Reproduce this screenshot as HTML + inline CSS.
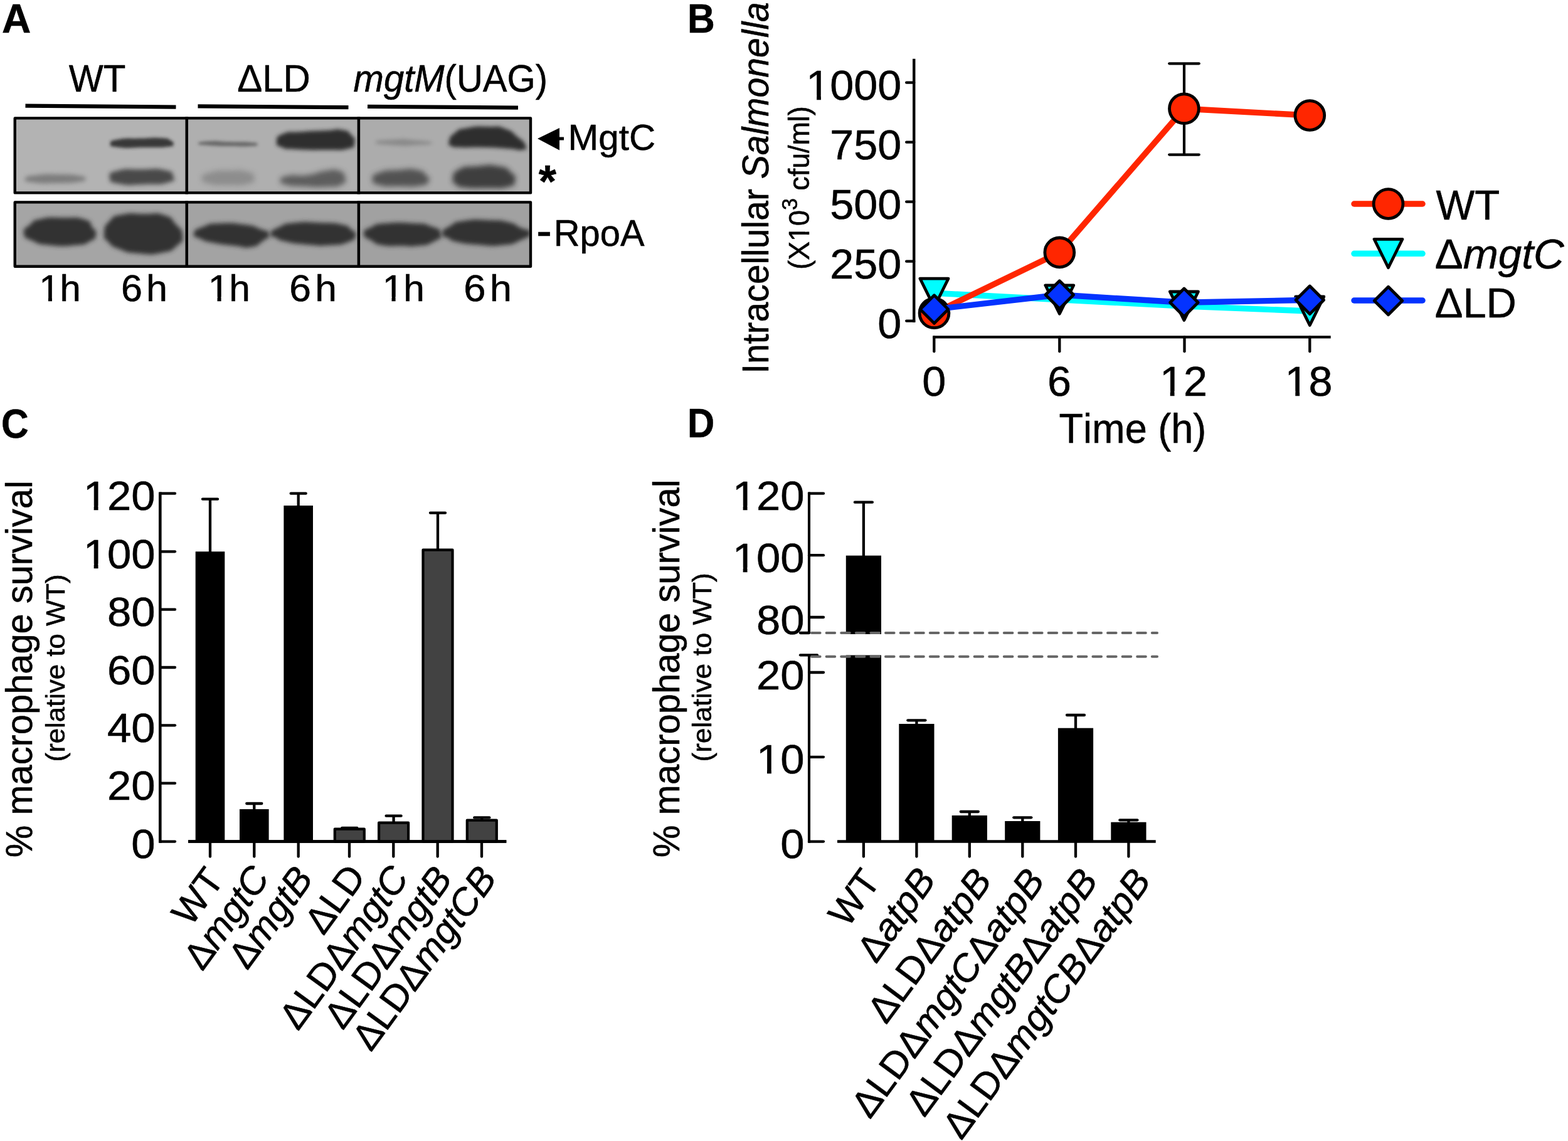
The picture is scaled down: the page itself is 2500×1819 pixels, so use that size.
<!DOCTYPE html>
<html lang="en"><head><meta charset="utf-8"><title>Figure</title>
<style>
html,body{margin:0;padding:0;background:#fff;}
body{width:2500px;height:1819px;overflow:hidden;}
svg{display:block;}
svg text{font-family:"Liberation Sans",sans-serif;fill:#000;font-kerning:none;white-space:pre;stroke:#000;stroke-width:0.55px;stroke-linejoin:round;}
</style></head><body>
<svg width="2500" height="1819" viewBox="0 0 2500 1819">
<defs>
<filter id="b25" x="-20%" y="-80%" width="140%" height="260%"><feGaussianBlur stdDeviation="2.5"/></filter>
<filter id="b3" x="-20%" y="-80%" width="140%" height="260%"><feGaussianBlur stdDeviation="3"/></filter>
<filter id="b35" x="-20%" y="-80%" width="140%" height="260%"><feGaussianBlur stdDeviation="3.5"/></filter>
<filter id="b4" x="-20%" y="-50%" width="140%" height="200%"><feGaussianBlur stdDeviation="4"/></filter>
<filter id="b5" x="-20%" y="-50%" width="140%" height="200%"><feGaussianBlur stdDeviation="5"/></filter>
<clipPath id="c1"><rect x="23.75" y="188.4" width="822.25" height="119"/></clipPath>
<clipPath id="c2"><rect x="23.75" y="322.4" width="822.25" height="102.4"/></clipPath>
</defs>
<rect x="0" y="0" width="2500" height="1819" fill="#fff"/>
<text transform="translate(2.90,52.00) scale(1.0015,1)" font-size="64" ><tspan font-weight="bold">A</tspan></text>
<text transform="translate(109.74,146.00) scale(0.9632,1)" font-size="60.5" >WT</text>
<text transform="translate(378.21,146.00) scale(0.9907,1)" font-size="60.5" >ΔLD</text>
<text transform="translate(563.54,146.00) scale(0.9594,1)" font-size="60.5" ><tspan font-style="italic">mgtM</tspan><tspan>(UAG)</tspan></text>
<line x1="40.50" y1="168.70" x2="280.50" y2="170.60" stroke="#000" stroke-width="6.2" stroke-linecap="butt" />
<line x1="315.50" y1="169.30" x2="555.50" y2="171.20" stroke="#000" stroke-width="6.2" stroke-linecap="butt" />
<line x1="586.00" y1="169.80" x2="826.00" y2="171.70" stroke="#000" stroke-width="6.2" stroke-linecap="butt" />
<g clip-path="url(#c1)">
<rect x="21.00" y="186.00" width="277.00" height="124.00" fill="#b3b3b3" />
<rect x="298.00" y="186.00" width="274.00" height="124.00" fill="#afafaf" />
<rect x="572.00" y="186.00" width="277.00" height="124.00" fill="#acacac" />
<path d="M176.0,229.0 C176.0,224.7 173.7,224.8 190.0,222.0 C206.3,219.2 202.3,221.2 225.0,220.5 C247.7,219.8 242.3,218.8 258.0,220.0 C273.7,221.2 266.0,220.7 272.0,224.0 C278.0,227.3 277.3,226.7 276.0,230.0 C274.7,233.3 283.3,232.3 268.0,234.0 C252.7,235.7 256.0,234.7 230.0,235.0 C204.0,235.3 208.0,237.0 190.0,235.0 C172.0,233.0 176.0,233.3 176.0,229.0Z" fill="#303030" opacity="0.95" filter="url(#b25)"/>
<path d="M40.0,285.0 C41.7,281.0 41.7,281.3 60.0,279.0 C78.3,276.7 73.3,277.7 95.0,278.0 C116.7,278.3 111.3,277.7 125.0,280.0 C138.7,282.3 136.0,281.7 136.0,285.0 C136.0,288.3 140.3,287.7 125.0,290.0 C109.7,292.3 113.3,291.7 90.0,292.0 C66.7,292.3 71.7,293.3 55.0,291.0 C38.3,288.7 38.3,289.0 40.0,285.0Z" fill="#6a6a6a" opacity="0.75" filter="url(#b35)"/>
<path d="M175.0,283.0 C174.3,276.0 171.3,276.3 188.0,272.0 C204.7,267.7 200.3,270.3 225.0,270.0 C249.7,269.7 245.0,267.3 262.0,271.0 C279.0,274.7 274.0,274.3 276.0,281.0 C278.0,287.7 283.3,286.7 268.0,291.0 C252.7,295.3 256.0,293.3 230.0,294.0 C204.0,294.7 208.3,296.7 190.0,293.0 C171.7,289.3 175.7,290.0 175.0,283.0Z" fill="#3c3c3c" opacity="0.9" filter="url(#b35)"/>
<path d="M316.0,229.0 C316.0,226.7 318.7,226.0 335.0,225.0 C351.3,224.0 343.3,225.3 365.0,226.0 C386.7,226.7 385.0,225.7 400.0,227.0 C415.0,228.3 410.0,228.0 410.0,230.0 C410.0,232.0 415.0,232.0 400.0,233.0 C385.0,234.0 386.7,233.3 365.0,233.0 C343.3,232.7 351.3,233.3 335.0,232.0 C318.7,230.7 316.0,231.3 316.0,229.0Z" fill="#555" opacity="0.8" filter="url(#b25)"/>
<path d="M441.0,226.0 C441.7,218.7 439.0,218.3 452.0,213.0 C465.0,207.7 457.3,211.7 480.0,210.0 C502.7,208.3 498.3,209.0 520.0,208.0 C541.7,207.0 531.7,204.7 545.0,207.0 C558.3,209.3 553.3,208.0 560.0,215.0 C566.7,222.0 566.7,220.7 565.0,228.0 C563.3,235.3 570.0,233.3 555.0,237.0 C540.0,240.7 548.3,238.7 520.0,239.0 C491.7,239.3 493.3,239.3 470.0,238.0 C446.7,236.7 459.7,239.0 450.0,235.0 C440.3,231.0 440.3,233.3 441.0,226.0Z" fill="#2e2e2e" opacity="1" filter="url(#b3)"/>
<path d="M322.0,285.0 C322.0,279.0 320.7,279.3 335.0,275.0 C349.3,270.7 345.0,272.3 365.0,272.0 C385.0,271.7 381.7,270.0 395.0,274.0 C408.3,278.0 405.0,277.7 405.0,284.0 C405.0,290.3 410.0,289.3 395.0,293.0 C380.0,296.7 380.0,295.0 360.0,295.0 C340.0,295.0 347.7,296.3 335.0,293.0 C322.3,289.7 322.0,291.0 322.0,285.0Z" fill="#777" opacity="0.6" filter="url(#b4)"/>
<path d="M447.0,288.0 C447.7,283.0 445.7,283.0 460.0,280.0 C474.3,277.0 470.0,281.7 490.0,279.0 C510.0,276.3 503.3,274.3 520.0,272.0 C536.7,269.7 530.0,268.7 540.0,272.0 C550.0,275.3 548.3,274.7 550.0,282.0 C551.7,289.3 555.0,288.7 545.0,294.0 C535.0,299.3 541.7,297.0 520.0,298.0 C498.3,299.0 500.7,298.0 480.0,297.0 C459.3,296.0 469.0,298.0 458.0,295.0 C447.0,292.0 446.3,293.0 447.0,288.0Z" fill="#505050" opacity="0.85" filter="url(#b4)"/>
<path d="M598.0,227.0 C598.0,224.0 609.3,223.7 630.0,222.5 C650.7,221.3 640.3,221.7 660.0,223.5 C679.7,225.3 689.0,225.3 689.0,228.0 C689.0,230.7 679.7,230.3 660.0,231.5 C640.3,232.7 650.7,233.0 630.0,231.5 C609.3,230.0 598.0,230.0 598.0,227.0Z" fill="#7a7a7a" opacity="0.7" filter="url(#b3)"/>
<path d="M716.0,226.0 C717.7,219.0 715.3,219.3 725.0,212.0 C734.7,204.7 726.7,207.3 745.0,204.0 C763.3,200.7 760.0,201.7 780.0,202.0 C800.0,202.3 790.0,199.7 805.0,205.0 C820.0,210.3 814.0,209.0 825.0,218.0 C836.0,227.0 835.7,225.0 838.0,232.0 C840.3,239.0 841.3,237.3 832.0,239.0 C822.7,240.7 830.7,238.3 810.0,237.0 C789.3,235.7 795.0,235.7 770.0,235.0 C745.0,234.3 751.7,235.7 735.0,235.0 C718.3,234.3 726.3,236.0 720.0,233.0 C713.7,230.0 714.3,233.0 716.0,226.0Z" fill="#2e2e2e" opacity="1" filter="url(#b3)"/>
<path d="M594.0,286.0 C594.0,279.3 591.3,280.0 605.0,275.0 C618.7,270.0 615.0,272.3 635.0,271.0 C655.0,269.7 650.0,268.0 665.0,271.0 C680.0,274.0 674.0,274.0 680.0,280.0 C686.0,286.0 686.3,283.7 683.0,289.0 C679.7,294.3 686.0,293.3 670.0,296.0 C654.0,298.7 656.7,297.3 635.0,297.0 C613.3,296.7 618.7,298.7 605.0,295.0 C591.3,291.3 594.0,292.7 594.0,286.0Z" fill="#484848" opacity="0.9" filter="url(#b4)"/>
<path d="M722.0,285.0 C723.7,277.0 719.3,276.7 732.0,270.0 C744.7,263.3 739.0,266.7 760.0,265.0 C781.0,263.3 776.7,261.7 795.0,265.0 C813.3,268.3 806.3,267.3 815.0,275.0 C823.7,282.7 822.7,280.3 821.0,288.0 C819.3,295.7 825.3,294.0 810.0,298.0 C794.7,302.0 798.3,299.7 775.0,300.0 C751.7,300.3 756.0,301.0 740.0,299.0 C724.0,297.0 733.0,298.7 727.0,294.0 C721.0,289.3 720.3,293.0 722.0,285.0Z" fill="#383838" opacity="0.95" filter="url(#b4)"/>
</g>
<rect x="23.75" y="188.40" width="822.25" height="119.00" fill="none" stroke="#000" stroke-width="4.4" stroke-linejoin="round"/>
<line x1="297.75" y1="186.20" x2="297.75" y2="309.50" stroke="#000" stroke-width="4.5" stroke-linecap="butt" />
<line x1="571.90" y1="186.20" x2="571.90" y2="309.50" stroke="#000" stroke-width="4.5" stroke-linecap="butt" />
<g clip-path="url(#c2)">
<rect x="21.00" y="320.00" width="277.00" height="108.00" fill="#a5a5a5" />
<rect x="298.00" y="320.00" width="274.00" height="108.00" fill="#a3a3a3" />
<rect x="572.00" y="320.00" width="277.00" height="108.00" fill="#a1a1a1" />
<path d="M38.0,372.0 C36.7,363.3 39.0,365.7 48.0,358.0 C57.0,350.3 47.7,352.7 65.0,349.0 C82.3,345.3 76.7,346.7 100.0,347.0 C123.3,347.3 119.3,345.0 135.0,350.0 C150.7,355.0 141.0,354.0 147.0,362.0 C153.0,370.0 154.3,366.3 153.0,374.0 C151.7,381.7 154.0,379.3 143.0,385.0 C132.0,390.7 141.0,389.0 120.0,391.0 C99.0,393.0 102.7,393.3 80.0,391.0 C57.3,388.7 66.0,390.3 52.0,384.0 C38.0,377.7 39.3,380.7 38.0,372.0Z" fill="#303030" opacity="1" filter="url(#b35)"/>
<path d="M166.0,372.0 C166.7,360.7 165.3,362.0 175.0,352.0 C184.7,342.0 176.7,345.7 195.0,342.0 C213.3,338.3 207.7,340.7 230.0,341.0 C252.3,341.3 245.3,337.7 262.0,343.0 C278.7,348.3 270.3,346.3 280.0,357.0 C289.7,367.7 290.3,363.3 291.0,375.0 C291.7,386.7 293.0,382.7 282.0,392.0 C271.0,401.3 278.7,399.0 258.0,403.0 C237.3,407.0 242.7,406.0 220.0,404.0 C197.3,402.0 205.7,403.0 190.0,397.0 C174.3,391.0 181.0,394.3 173.0,386.0 C165.0,377.7 165.3,383.3 166.0,372.0Z" fill="#303030" opacity="1" filter="url(#b35)"/>
<path d="M309.0,372.0 C310.7,365.3 311.3,366.3 325.0,361.0 C338.7,355.7 328.3,357.0 350.0,356.0 C371.7,355.0 368.3,355.0 390.0,358.0 C411.7,361.0 402.0,360.0 415.0,365.0 C428.0,370.0 428.0,366.3 429.0,373.0 C430.0,379.7 427.7,378.0 418.0,385.0 C408.3,392.0 414.3,391.7 400.0,394.0 C385.7,396.3 395.0,394.3 375.0,392.0 C355.0,389.7 358.3,390.7 340.0,387.0 C321.7,383.3 330.3,386.0 320.0,381.0 C309.7,376.0 307.3,378.7 309.0,372.0Z" fill="#303030" opacity="1" filter="url(#b35)"/>
<path d="M431.0,373.0 C432.7,367.3 432.0,368.0 445.0,362.0 C458.0,356.0 448.3,357.3 470.0,355.0 C491.7,352.7 485.0,354.0 510.0,355.0 C535.0,356.0 528.3,354.3 545.0,358.0 C561.7,361.7 552.7,360.3 560.0,366.0 C567.3,371.7 568.7,368.3 567.0,375.0 C565.3,381.7 569.0,380.7 555.0,386.0 C541.0,391.3 546.7,389.7 525.0,391.0 C503.3,392.3 513.3,392.0 490.0,390.0 C466.7,388.0 471.7,388.7 455.0,385.0 C438.3,381.3 448.0,383.0 440.0,379.0 C432.0,375.0 429.3,378.7 431.0,373.0Z" fill="#303030" opacity="1" filter="url(#b35)"/>
<path d="M580.0,373.0 C579.7,365.7 580.3,367.7 592.0,362.0 C603.7,356.3 592.3,358.0 615.0,356.0 C637.7,354.0 636.7,354.7 660.0,356.0 C683.3,357.3 670.7,354.7 685.0,360.0 C699.3,365.3 701.3,363.3 703.0,372.0 C704.7,380.7 702.7,379.3 690.0,386.0 C677.3,392.7 681.7,390.0 665.0,392.0 C648.3,394.0 658.3,392.3 640.0,392.0 C621.7,391.7 625.7,393.7 610.0,391.0 C594.3,388.3 603.0,390.0 593.0,384.0 C583.0,378.0 580.3,380.3 580.0,373.0Z" fill="#303030" opacity="1" filter="url(#b35)"/>
<path d="M705.0,372.0 C706.0,365.3 706.3,366.7 718.0,360.0 C729.7,353.3 719.3,355.0 740.0,352.0 C760.7,349.0 756.7,350.3 780.0,351.0 C803.3,351.7 793.3,350.0 810.0,354.0 C826.7,358.0 818.0,357.3 830.0,363.0 C842.0,368.7 846.0,364.3 846.0,371.0 C846.0,377.7 845.3,376.3 830.0,383.0 C814.7,389.7 823.3,388.7 800.0,391.0 C776.7,393.3 783.3,391.7 760.0,390.0 C736.7,388.3 745.0,389.3 730.0,386.0 C715.0,382.7 723.3,384.7 715.0,380.0 C706.7,375.3 704.0,378.7 705.0,372.0Z" fill="#303030" opacity="1" filter="url(#b35)"/>
</g>
<rect x="23.75" y="322.40" width="822.25" height="102.40" fill="none" stroke="#000" stroke-width="4.4" stroke-linejoin="round"/>
<line x1="297.75" y1="320.20" x2="297.75" y2="427.00" stroke="#000" stroke-width="4.5" stroke-linecap="butt" />
<line x1="571.90" y1="320.20" x2="571.90" y2="427.00" stroke="#000" stroke-width="4.5" stroke-linecap="butt" />
<polygon points="857,221 892,204 892,239.5" fill="#000"/>
<line x1="890.00" y1="221.00" x2="899.00" y2="221.00" stroke="#000" stroke-width="5" stroke-linecap="butt" />
<text transform="translate(905.50,239.00) scale(1.0083,1)" font-size="58" >MgtC</text>
<text transform="translate(858.79,314.00) scale(1.0094,1)" font-size="72" ><tspan font-weight="bold">*</tspan></text>
<text transform="translate(854.95,392.85) scale(0.9969,1)" font-size="75.6" >-</text>
<text transform="translate(882.75,391.80) scale(0.9816,1)" font-size="59" >RpoA</text>
<clipPath id="k1"><path clip-rule="evenodd" d="M-3000,-3000H3000V3000H-3000ZM3.00,-6.68H14.74V2.00H3.00ZM20.74,-6.68H31.80V2.00H20.74Z"/></clipPath>
<text transform="translate(62.24,480.00) scale(0.9988,1)" font-size="60"  clip-path="url(#k1)">1h</text>
<clipPath id="k2"><path clip-rule="evenodd" d="M-3000,-3000H3000V3000H-3000ZM3.00,-6.68H14.74V2.00H3.00ZM20.74,-6.68H31.80V2.00H20.74Z"/></clipPath>
<text transform="translate(331.69,480.00) scale(1.0075,1)" font-size="60"  clip-path="url(#k2)">1h</text>
<clipPath id="k3"><path clip-rule="evenodd" d="M-3000,-3000H3000V3000H-3000ZM3.00,-6.68H14.74V2.00H3.00ZM20.74,-6.68H31.80V2.00H20.74Z"/></clipPath>
<text transform="translate(609.69,480.00) scale(1.0075,1)" font-size="60"  clip-path="url(#k3)">1h</text>
<text transform="translate(192.90,480.00) scale(1.0183,1)" font-size="60" letter-spacing="6" >6h</text>
<text transform="translate(461.33,480.00) scale(1.0411,1)" font-size="60" letter-spacing="6" >6h</text>
<text transform="translate(739.28,480.00) scale(1.0563,1)" font-size="60" letter-spacing="6" >6h</text>
<text transform="translate(1095.94,52.00) scale(0.9480,1)" font-size="64" ><tspan font-weight="bold">B</tspan></text>
<line x1="1457.25" y1="93.80" x2="1457.25" y2="514.00" stroke="#000" stroke-width="4.4" stroke-linecap="butt" />
<line x1="1445.20" y1="131.70" x2="1457.25" y2="131.70" stroke="#000" stroke-width="4.3" stroke-linecap="round" />
<clipPath id="k4"><path clip-rule="evenodd" d="M-3000,-3000H3000V3000H-3000ZM3.35,-7.21H16.50V2.00H3.35ZM23.12,-7.21H35.51V2.00H23.12Z"/></clipPath>
<text transform="translate(1285.34,158.90) scale(1.0200,1)" font-size="67"  clip-path="url(#k4)">1000</text>
<line x1="1445.20" y1="226.70" x2="1457.25" y2="226.70" stroke="#000" stroke-width="4.3" stroke-linecap="round" />
<text transform="translate(1323.35,253.90) scale(1.0200,1)" font-size="67" >750</text>
<line x1="1445.20" y1="321.70" x2="1457.25" y2="321.70" stroke="#000" stroke-width="4.3" stroke-linecap="round" />
<text transform="translate(1323.35,348.90) scale(1.0200,1)" font-size="67" >500</text>
<line x1="1445.20" y1="416.70" x2="1457.25" y2="416.70" stroke="#000" stroke-width="4.3" stroke-linecap="round" />
<text transform="translate(1323.35,443.90) scale(1.0200,1)" font-size="67" >250</text>
<line x1="1445.20" y1="511.70" x2="1457.25" y2="511.70" stroke="#000" stroke-width="4.3" stroke-linecap="round" />
<text transform="translate(1399.36,538.90) scale(1.0200,1)" font-size="67" >0</text>
<line x1="1487.20" y1="537.30" x2="2121.70" y2="537.30" stroke="#000" stroke-width="4.3" stroke-linecap="butt" />
<line x1="1489.30" y1="537.30" x2="1489.30" y2="560.30" stroke="#000" stroke-width="4.3" stroke-linecap="round" />
<text transform="translate(1470.30,630.70) scale(1.0200,1)" font-size="67" >0</text>
<line x1="1689.30" y1="537.30" x2="1689.30" y2="560.30" stroke="#000" stroke-width="4.3" stroke-linecap="round" />
<text transform="translate(1670.06,630.70) scale(1.0200,1)" font-size="67" >6</text>
<line x1="1888.50" y1="537.30" x2="1888.50" y2="560.30" stroke="#000" stroke-width="4.3" stroke-linecap="round" />
<clipPath id="k5"><path clip-rule="evenodd" d="M-3000,-3000H3000V3000H-3000ZM3.35,-7.21H16.50V2.00H3.35ZM23.12,-7.21H35.51V2.00H23.12Z"/></clipPath>
<text transform="translate(1848.92,630.70) scale(1.0200,1)" font-size="67"  clip-path="url(#k5)">12</text>
<line x1="2088.30" y1="537.30" x2="2088.30" y2="560.30" stroke="#000" stroke-width="4.3" stroke-linecap="round" />
<clipPath id="k6"><path clip-rule="evenodd" d="M-3000,-3000H3000V3000H-3000ZM3.35,-7.21H16.50V2.00H3.35ZM23.12,-7.21H35.51V2.00H23.12Z"/></clipPath>
<text transform="translate(2048.49,630.70) scale(1.0200,1)" font-size="67"  clip-path="url(#k6)">18</text>
<text transform="translate(1688.58,705.50) scale(0.9559,1)" font-size="66" >Time (h)</text>
<text transform="translate(1225.00,595.86) rotate(-90) scale(0.9665,1.0000)" font-size="59"><tspan>Intracellular </tspan><tspan font-style="italic">Salmonella</tspan></text>
<clipPath id="k7"><path clip-rule="evenodd" d="M-3000,-3000H3000V3000H-3000ZM48.30,-5.64H57.22V2.00H48.30ZM61.98,-5.64H70.38V2.00H61.98Z"/></clipPath>
<text transform="translate(1289.50,429.78) rotate(-90) scale(0.9745,1.0000)" font-size="46" clip-path="url(#k7)"><tspan>(X10</tspan><tspan font-size="34.96" dy="-18.40">3</tspan><tspan dy="18.40"> cfu/ml)</tspan></text>
<polyline points="1489.5,467.2 1689.3,477.8 1887.9,488.0 2088.3,496.0" fill="none" stroke="#00fdff" stroke-width="9.4" stroke-linejoin="round"/>
<polygon points="1467.0,444.2 1512.0,444.2 1489.5,489.7" fill="#00fdff" stroke="#000" stroke-width="4.8" stroke-linejoin="round"/>
<polygon points="1666.8,454.8 1711.8,454.8 1689.3,500.3" fill="#00fdff" stroke="#000" stroke-width="4.8" stroke-linejoin="round"/>
<polygon points="1865.4,465.0 1910.4,465.0 1887.9,510.5" fill="#00fdff" stroke="#000" stroke-width="4.8" stroke-linejoin="round"/>
<polygon points="2065.8,473.0 2110.8,473.0 2088.3,518.5" fill="#00fdff" stroke="#000" stroke-width="4.8" stroke-linejoin="round"/>
<line x1="1888.00" y1="101.00" x2="1888.00" y2="246.70" stroke="#000" stroke-width="4.2" stroke-linecap="butt" />
<line x1="1864.30" y1="101.30" x2="1911.70" y2="101.30" stroke="#000" stroke-width="4.3" stroke-linecap="round" />
<line x1="1864.30" y1="246.60" x2="1911.70" y2="246.60" stroke="#000" stroke-width="4.3" stroke-linecap="round" />
<polyline points="1489.5,499.3 1689.3,402.4 1887.9,173.3 2088.3,184.0" fill="none" stroke="#ff2600" stroke-width="9.4" stroke-linejoin="round"/>
<circle cx="1489.5" cy="499.3" r="23.4" fill="#ff2600" stroke="#000" stroke-width="4.8"/>
<circle cx="1689.3" cy="402.4" r="23.4" fill="#ff2600" stroke="#000" stroke-width="4.8"/>
<circle cx="1887.9" cy="173.3" r="23.4" fill="#ff2600" stroke="#000" stroke-width="4.8"/>
<circle cx="2088.3" cy="184.0" r="23.4" fill="#ff2600" stroke="#000" stroke-width="4.8"/>
<line x1="2066.00" y1="474.00" x2="2110.00" y2="474.00" stroke="#000" stroke-width="4.3" stroke-linecap="round" />
<polyline points="1489.5,493.1 1689.3,470.0 1887.9,482.3 2088.3,478.3" fill="none" stroke="#0433ff" stroke-width="9.4" stroke-linejoin="round"/>
<polygon points="1467.2,493.1 1489.5,470.8 1511.8,493.1 1489.5,515.4" fill="#0433ff" stroke="#000" stroke-width="4.8" stroke-linejoin="round"/>
<polygon points="1667.0,470.0 1689.3,447.7 1711.6,470.0 1689.3,492.3" fill="#0433ff" stroke="#000" stroke-width="4.8" stroke-linejoin="round"/>
<polygon points="1865.6,482.3 1887.9,460.0 1910.2,482.3 1887.9,504.6" fill="#0433ff" stroke="#000" stroke-width="4.8" stroke-linejoin="round"/>
<polygon points="2066.0,478.3 2088.3,456.0 2110.6,478.3 2088.3,500.6" fill="#0433ff" stroke="#000" stroke-width="4.8" stroke-linejoin="round"/>
<line x1="2159.00" y1="325.00" x2="2268.00" y2="325.00" stroke="#ff2600" stroke-width="9.5" stroke-linecap="round" />
<line x1="2159.00" y1="404.30" x2="2268.00" y2="404.30" stroke="#00fdff" stroke-width="9.5" stroke-linecap="round" />
<line x1="2159.00" y1="479.00" x2="2268.00" y2="479.00" stroke="#0433ff" stroke-width="9.5" stroke-linecap="round" />
<circle cx="2213.5" cy="325.0" r="23.4" fill="#ff2600" stroke="#000" stroke-width="4.8"/>
<polygon points="2191.0,381.3 2236.0,381.3 2213.5,426.8" fill="#00fdff" stroke="#000" stroke-width="4.8" stroke-linejoin="round"/>
<polygon points="2191.2,479.5 2213.5,457.2 2235.8,479.5 2213.5,501.8" fill="#0433ff" stroke="#000" stroke-width="4.8" stroke-linejoin="round"/>
<text transform="translate(2289.41,350.00) scale(0.9787,1)" font-size="66.9" >WT</text>
<text transform="translate(2287.69,428.40) scale(1.0070,1)" font-size="66.9" ><tspan>Δ</tspan><tspan font-style="italic">mgtC</tspan></text>
<text transform="translate(2287.71,505.50) scale(0.9999,1)" font-size="66.9" >ΔLD</text>
<text transform="translate(2.02,698.00) scale(0.9440,1)" font-size="64" ><tspan font-weight="bold">C</tspan></text>
<line x1="255.30" y1="784.50" x2="255.30" y2="1343.80" stroke="#000" stroke-width="4.6" stroke-linecap="butt" />
<line x1="255.30" y1="786.70" x2="279.00" y2="786.70" stroke="#000" stroke-width="4.3" stroke-linecap="round" />
<clipPath id="k8"><path clip-rule="evenodd" d="M-3000,-3000H3000V3000H-3000ZM3.25,-7.06H16.00V2.00H3.25ZM22.44,-7.06H34.45V2.00H22.44Z"/></clipPath>
<text transform="translate(132.73,813.20) scale(1.0600,1)" font-size="65"  clip-path="url(#k8)">120</text>
<line x1="255.30" y1="879.30" x2="279.00" y2="879.30" stroke="#000" stroke-width="4.3" stroke-linecap="round" />
<clipPath id="k9"><path clip-rule="evenodd" d="M-3000,-3000H3000V3000H-3000ZM3.25,-7.06H16.00V2.00H3.25ZM22.44,-7.06H34.45V2.00H22.44Z"/></clipPath>
<text transform="translate(132.73,905.80) scale(1.0600,1)" font-size="65"  clip-path="url(#k9)">100</text>
<line x1="255.30" y1="971.70" x2="279.00" y2="971.70" stroke="#000" stroke-width="4.3" stroke-linecap="round" />
<text transform="translate(171.05,998.20) scale(1.0600,1)" font-size="65" >80</text>
<line x1="255.30" y1="1064.00" x2="279.00" y2="1064.00" stroke="#000" stroke-width="4.3" stroke-linecap="round" />
<text transform="translate(171.05,1090.50) scale(1.0600,1)" font-size="65" >60</text>
<line x1="255.30" y1="1156.30" x2="279.00" y2="1156.30" stroke="#000" stroke-width="4.3" stroke-linecap="round" />
<text transform="translate(171.05,1182.80) scale(1.0600,1)" font-size="65" >40</text>
<line x1="255.30" y1="1248.70" x2="279.00" y2="1248.70" stroke="#000" stroke-width="4.3" stroke-linecap="round" />
<text transform="translate(171.05,1275.20) scale(1.0600,1)" font-size="65" >20</text>
<line x1="255.30" y1="1341.60" x2="279.00" y2="1341.60" stroke="#000" stroke-width="4.3" stroke-linecap="round" />
<text transform="translate(209.37,1368.10) scale(1.0600,1)" font-size="65" >0</text>
<line x1="300.00" y1="1341.60" x2="807.30" y2="1341.60" stroke="#000" stroke-width="4.5" stroke-linecap="butt" />
<text transform="translate(50.70,1367.06) rotate(-90) scale(0.9636,1.0000)" font-size="60">% macrophage survival</text>
<text transform="translate(102.70,1214.41) rotate(-90) scale(1.0422,1.0000)" font-size="42">(relative to WT)</text>
<line x1="335.00" y1="881.30" x2="335.00" y2="795.70" stroke="#000" stroke-width="4.3" stroke-linecap="butt" />
<line x1="323.00" y1="795.70" x2="347.00" y2="795.70" stroke="#000" stroke-width="4.3" stroke-linecap="round" />
<rect x="311.70" y="879.30" width="46.60" height="462.30" fill="#000" />
<line x1="335.00" y1="1341.60" x2="335.00" y2="1365.50" stroke="#000" stroke-width="4.3" stroke-linecap="round" />
<text transform="translate(358.60,1404.00) rotate(-53.9) scale(1.0100,1.0000)" x="-91.90" font-size="60">WT</text>
<line x1="405.30" y1="1292.00" x2="405.30" y2="1281.00" stroke="#000" stroke-width="4.3" stroke-linecap="butt" />
<line x1="393.30" y1="1281.00" x2="417.30" y2="1281.00" stroke="#000" stroke-width="4.3" stroke-linecap="round" />
<rect x="382.00" y="1290.00" width="46.60" height="51.60" fill="#000" />
<line x1="405.30" y1="1341.60" x2="405.30" y2="1365.50" stroke="#000" stroke-width="4.3" stroke-linecap="round" />
<text transform="translate(432.09,1399.52) rotate(-53.9) scale(1.0100,1.0000)" x="-183.75" font-size="60"><tspan>Δ</tspan><tspan font-style="italic">mgtC</tspan></text>
<line x1="475.70" y1="808.00" x2="475.70" y2="786.70" stroke="#000" stroke-width="4.3" stroke-linecap="butt" />
<line x1="463.70" y1="786.70" x2="487.70" y2="786.70" stroke="#000" stroke-width="4.3" stroke-linecap="round" />
<rect x="452.40" y="806.00" width="46.60" height="535.60" fill="#000" />
<line x1="475.70" y1="1341.60" x2="475.70" y2="1365.50" stroke="#000" stroke-width="4.3" stroke-linecap="round" />
<text transform="translate(500.17,1402.78) rotate(-53.9) scale(1.0100,1.0000)" x="-178.07" font-size="60"><tspan>Δ</tspan><tspan font-style="italic">mgtB</tspan></text>
<line x1="557.30" y1="1322.00" x2="557.30" y2="1320.00" stroke="#000" stroke-width="4.3" stroke-linecap="butt" />
<line x1="545.30" y1="1320.00" x2="569.30" y2="1320.00" stroke="#000" stroke-width="4.3" stroke-linecap="round" />
<rect x="533.80" y="1321.70" width="47.00" height="19.90" fill="#424242" stroke="#000" stroke-width="4.2" stroke-linejoin="round"/>
<line x1="557.00" y1="1341.60" x2="557.00" y2="1365.50" stroke="#000" stroke-width="4.3" stroke-linecap="round" />
<text transform="translate(583.50,1399.92) rotate(-53.9) scale(1.0100,1.0000)" x="-113.91" font-size="60">ΔLD</text>
<line x1="627.60" y1="1312.00" x2="627.60" y2="1300.70" stroke="#000" stroke-width="4.3" stroke-linecap="butt" />
<line x1="615.60" y1="1300.70" x2="639.60" y2="1300.70" stroke="#000" stroke-width="4.3" stroke-linecap="round" />
<rect x="604.10" y="1311.70" width="47.00" height="29.90" fill="#424242" stroke="#000" stroke-width="4.2" stroke-linejoin="round"/>
<line x1="627.30" y1="1341.60" x2="627.30" y2="1365.50" stroke="#000" stroke-width="4.3" stroke-linecap="round" />
<text transform="translate(654.09,1399.52) rotate(-53.9) scale(1.0100,1.0000)" x="-300.53" font-size="60"><tspan>ΔLDΔ</tspan><tspan font-style="italic">mgtC</tspan></text>
<line x1="698.00" y1="877.00" x2="698.00" y2="817.70" stroke="#000" stroke-width="4.3" stroke-linecap="butt" />
<line x1="686.00" y1="817.70" x2="710.00" y2="817.70" stroke="#000" stroke-width="4.3" stroke-linecap="round" />
<rect x="674.50" y="876.70" width="47.00" height="464.90" fill="#424242" stroke="#000" stroke-width="4.2" stroke-linejoin="round"/>
<line x1="697.70" y1="1341.60" x2="697.70" y2="1365.50" stroke="#000" stroke-width="4.3" stroke-linecap="round" />
<text transform="translate(722.17,1402.78) rotate(-53.9) scale(1.0100,1.0000)" x="-294.84" font-size="60"><tspan>ΔLDΔ</tspan><tspan font-style="italic">mgtB</tspan></text>
<line x1="768.30" y1="1308.00" x2="768.30" y2="1303.40" stroke="#000" stroke-width="4.3" stroke-linecap="butt" />
<line x1="756.30" y1="1303.40" x2="780.30" y2="1303.40" stroke="#000" stroke-width="4.3" stroke-linecap="round" />
<rect x="744.80" y="1307.70" width="47.00" height="33.90" fill="#424242" stroke="#000" stroke-width="4.2" stroke-linejoin="round"/>
<line x1="768.00" y1="1341.60" x2="768.00" y2="1365.50" stroke="#000" stroke-width="4.3" stroke-linecap="round" />
<text transform="translate(792.76,1402.37) rotate(-53.9) scale(1.0100,1.0000)" x="-338.17" font-size="60"><tspan>ΔLDΔ</tspan><tspan font-style="italic">mgtCB</tspan></text>
<line x1="300.00" y1="1341.60" x2="807.30" y2="1341.60" stroke="#000" stroke-width="4.5" stroke-linecap="butt" />
<text transform="translate(1096.00,697.00) scale(0.9350,1)" font-size="64" ><tspan font-weight="bold">D</tspan></text>
<line x1="1290.00" y1="784.60" x2="1290.00" y2="1009.00" stroke="#000" stroke-width="4.1" stroke-linecap="butt" />
<line x1="1290.00" y1="1044.30" x2="1290.00" y2="1343.70" stroke="#000" stroke-width="4.1" stroke-linecap="butt" />
<line x1="1290.00" y1="786.70" x2="1313.00" y2="786.70" stroke="#000" stroke-width="4.3" stroke-linecap="round" />
<clipPath id="k10"><path clip-rule="evenodd" d="M-3000,-3000H3000V3000H-3000ZM3.25,-7.06H16.00V2.00H3.25ZM22.44,-7.06H34.45V2.00H22.44Z"/></clipPath>
<text transform="translate(1167.73,813.20) scale(1.0600,1)" font-size="65"  clip-path="url(#k10)">120</text>
<line x1="1290.00" y1="885.20" x2="1313.00" y2="885.20" stroke="#000" stroke-width="4.3" stroke-linecap="round" />
<clipPath id="k11"><path clip-rule="evenodd" d="M-3000,-3000H3000V3000H-3000ZM3.25,-7.06H16.00V2.00H3.25ZM22.44,-7.06H34.45V2.00H22.44Z"/></clipPath>
<text transform="translate(1167.73,911.70) scale(1.0600,1)" font-size="65"  clip-path="url(#k11)">100</text>
<line x1="1290.00" y1="984.00" x2="1313.00" y2="984.00" stroke="#000" stroke-width="4.3" stroke-linecap="round" />
<text transform="translate(1206.05,1010.50) scale(1.0600,1)" font-size="65" >80</text>
<line x1="1290.00" y1="1072.00" x2="1313.00" y2="1072.00" stroke="#000" stroke-width="4.3" stroke-linecap="round" />
<text transform="translate(1206.05,1098.50) scale(1.0600,1)" font-size="65" >20</text>
<line x1="1290.00" y1="1206.80" x2="1313.00" y2="1206.80" stroke="#000" stroke-width="4.3" stroke-linecap="round" />
<clipPath id="k12"><path clip-rule="evenodd" d="M-3000,-3000H3000V3000H-3000ZM3.25,-7.06H16.00V2.00H3.25ZM22.44,-7.06H34.45V2.00H22.44Z"/></clipPath>
<text transform="translate(1206.05,1233.30) scale(1.0600,1)" font-size="65"  clip-path="url(#k12)">10</text>
<line x1="1290.00" y1="1341.60" x2="1313.00" y2="1341.60" stroke="#000" stroke-width="4.3" stroke-linecap="round" />
<text transform="translate(1244.37,1368.10) scale(1.0600,1)" font-size="65" >0</text>
<text transform="translate(1082.70,1367.07) rotate(-90) scale(0.9669,1.0000)" font-size="60">% macrophage survival</text>
<text transform="translate(1134.30,1214.43) rotate(-90) scale(1.0493,1.0000)" font-size="42">(relative to WT)</text>
<line x1="1376.90" y1="887.70" x2="1376.90" y2="800.70" stroke="#000" stroke-width="4.3" stroke-linecap="butt" />
<line x1="1362.90" y1="800.70" x2="1390.90" y2="800.70" stroke="#000" stroke-width="4.3" stroke-linecap="round" />
<rect x="1348.80" y="885.70" width="56.20" height="455.90" fill="#000" />
<line x1="1376.90" y1="1341.60" x2="1376.90" y2="1365.50" stroke="#000" stroke-width="4.3" stroke-linecap="round" />
<text transform="translate(1405.00,1406.10) rotate(-54.2) scale(1.0000,1.0000)" x="-91.90" font-size="60">WT</text>
<line x1="1461.40" y1="1156.00" x2="1461.40" y2="1148.30" stroke="#000" stroke-width="4.3" stroke-linecap="butt" />
<line x1="1447.40" y1="1148.30" x2="1475.40" y2="1148.30" stroke="#000" stroke-width="4.3" stroke-linecap="round" />
<rect x="1433.30" y="1154.00" width="56.20" height="187.60" fill="#000" />
<line x1="1461.40" y1="1341.60" x2="1461.40" y2="1365.50" stroke="#000" stroke-width="4.3" stroke-linecap="round" />
<text transform="translate(1492.90,1404.70) rotate(-54.2) scale(1.0170,1.0000)" x="-161.46" font-size="60"><tspan>Δ</tspan><tspan font-style="italic">atpB</tspan></text>
<line x1="1545.80" y1="1302.00" x2="1545.80" y2="1294.00" stroke="#000" stroke-width="4.3" stroke-linecap="butt" />
<line x1="1531.80" y1="1294.00" x2="1559.80" y2="1294.00" stroke="#000" stroke-width="4.3" stroke-linecap="round" />
<rect x="1517.70" y="1300.00" width="56.20" height="41.60" fill="#000" />
<line x1="1545.80" y1="1341.60" x2="1545.80" y2="1365.50" stroke="#000" stroke-width="4.3" stroke-linecap="round" />
<text transform="translate(1582.30,1406.20) rotate(-53.4) scale(1.0220,1.0000)" x="-278.23" font-size="60"><tspan>ΔLDΔ</tspan><tspan font-style="italic">atpB</tspan></text>
<line x1="1630.30" y1="1311.00" x2="1630.30" y2="1303.30" stroke="#000" stroke-width="4.3" stroke-linecap="butt" />
<line x1="1616.30" y1="1303.30" x2="1644.30" y2="1303.30" stroke="#000" stroke-width="4.3" stroke-linecap="round" />
<rect x="1602.20" y="1309.00" width="56.20" height="32.60" fill="#000" />
<line x1="1630.30" y1="1341.60" x2="1630.30" y2="1365.50" stroke="#000" stroke-width="4.3" stroke-linecap="round" />
<text transform="translate(1666.80,1406.20) rotate(-53.6) scale(1.0210,1.0000)" x="-461.66" font-size="60"><tspan>ΔLDΔ</tspan><tspan font-style="italic">mgtC</tspan><tspan>Δ</tspan><tspan font-style="italic">atpB</tspan></text>
<line x1="1715.00" y1="1162.70" x2="1715.00" y2="1140.00" stroke="#000" stroke-width="4.3" stroke-linecap="butt" />
<line x1="1701.00" y1="1140.00" x2="1729.00" y2="1140.00" stroke="#000" stroke-width="4.3" stroke-linecap="round" />
<rect x="1686.90" y="1160.70" width="56.20" height="180.90" fill="#000" />
<line x1="1715.00" y1="1341.60" x2="1715.00" y2="1365.50" stroke="#000" stroke-width="4.3" stroke-linecap="round" />
<text transform="translate(1751.50,1406.20) rotate(-53.6) scale(1.0210,1.0000)" x="-458.35" font-size="60"><tspan>ΔLDΔ</tspan><tspan font-style="italic">mgtB</tspan><tspan>Δ</tspan><tspan font-style="italic">atpB</tspan></text>
<line x1="1799.40" y1="1312.70" x2="1799.40" y2="1307.30" stroke="#000" stroke-width="4.3" stroke-linecap="butt" />
<line x1="1785.40" y1="1307.30" x2="1813.40" y2="1307.30" stroke="#000" stroke-width="4.3" stroke-linecap="round" />
<rect x="1771.30" y="1310.70" width="56.20" height="30.90" fill="#000" />
<line x1="1799.40" y1="1341.60" x2="1799.40" y2="1365.50" stroke="#000" stroke-width="4.3" stroke-linecap="round" />
<text transform="translate(1835.90,1406.20) rotate(-53.7) scale(1.0210,1.0000)" x="-501.68" font-size="60"><tspan>ΔLDΔ</tspan><tspan font-style="italic">mgtCB</tspan><tspan>Δ</tspan><tspan font-style="italic">atpB</tspan></text>
<line x1="1335.00" y1="1341.60" x2="1842.70" y2="1341.60" stroke="#000" stroke-width="4.5" stroke-linecap="butt" />
<rect x="1340.00" y="1011.00" width="80.00" height="33.50" fill="#fff" />
<line x1="1276.00" y1="1009.00" x2="1290.00" y2="1009.00" stroke="#000" stroke-width="4.3" stroke-linecap="round" />
<line x1="1276.00" y1="1044.30" x2="1303.00" y2="1044.30" stroke="#000" stroke-width="4.3" stroke-linecap="round" />
<line x1="1294" y1="1009.0" x2="1845" y2="1009.0" stroke="#666" stroke-width="4" stroke-dasharray="13.6 10" stroke-linecap="round"/>
<line x1="1294" y1="1046.7" x2="1845" y2="1046.7" stroke="#666" stroke-width="4" stroke-dasharray="13.6 10" stroke-linecap="round"/>
</svg>
</body></html>
